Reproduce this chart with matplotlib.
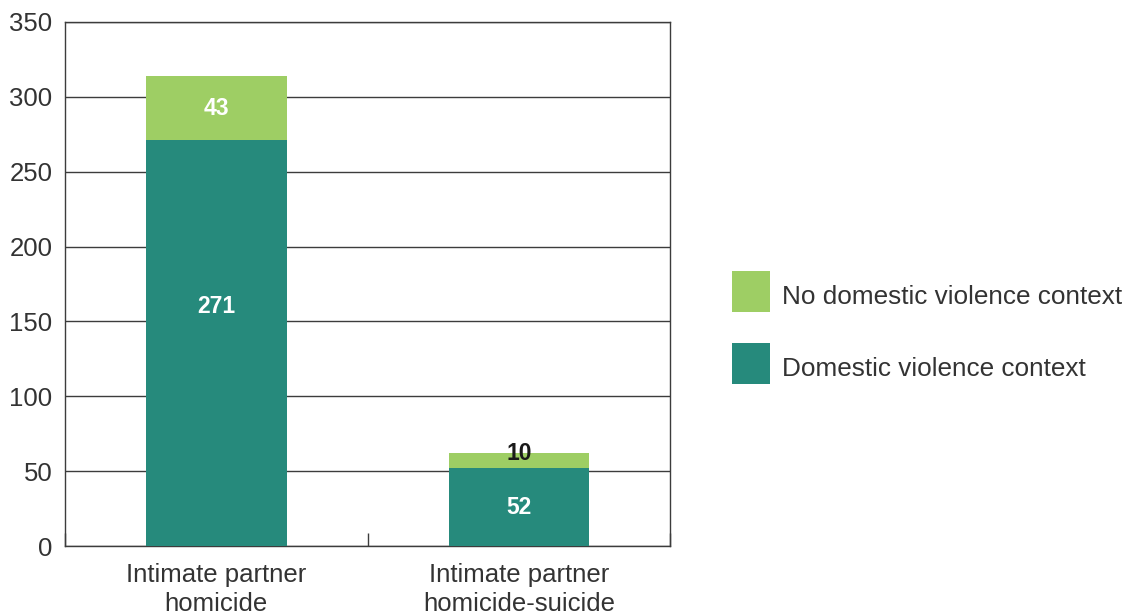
import matplotlib.pyplot as plt
from matplotlib.patches import Rectangle
import numpy as np

categories = ["Intimate partner\nhomicide", "Intimate partner\nhomicide-suicide"]
dv_context = [271, 52]
no_dv_context = [43, 10]
series_names = ["No domestic violence context", "Domestic violence context"]

yticks = [0, 50, 100, 150, 200, 250, 300, 350]

TEAL = "#268a7c"
GREEN = "#9ece64"
TEXT = "#333333"
LINE = "#3c3c3c"

plt.rcParams["font.family"] = ["Liberation Sans", "DejaVu Sans"]

W, H = 1131, 614
fig = plt.figure(figsize=(W / 100, H / 100), dpi=100)
ax = fig.add_axes([0.0575, 0.1107, 0.535, 0.8535])

x = np.arange(len(categories))
width = 0.465
ax.bar(x, dv_context, width, color=TEAL, zorder=3)
ax.bar(x, no_dv_context, width, bottom=dv_context, color=GREEN, zorder=3)

# value labels
dv_label_y = [160, dv_context[1] / 2]
for i in range(len(categories)):
    ax.text(x[i], dv_label_y[i], str(dv_context[i]), ha="center", va="center",
            color="white", fontsize=16.5, fontweight="bold", zorder=4)
ax.text(x[0], dv_context[0] + no_dv_context[0] / 2, str(no_dv_context[0]),
        ha="center", va="center", color="white", fontsize=16.5, fontweight="bold", zorder=4)
ax.text(x[1], dv_context[1] + no_dv_context[1], str(no_dv_context[1]),
        ha="center", va="center", color="#1a1a1a", fontsize=16.5, fontweight="bold", zorder=4)

ax.set_xlim(-0.5, 1.5)
ax.set_ylim(0, 350)
ax.set_yticks(yticks)
ax.set_xticks(x)
ax.set_xticklabels(categories, linespacing=1.28)
ax.set_xticks([-0.5, 0.5, 1.5], minor=True)
ax.tick_params(axis="x", which="major", length=0, pad=12, labelsize=18.5, labelcolor=TEXT)
ax.tick_params(axis="x", which="minor", direction="in", length=9.5, width=1, color=LINE)
ax.tick_params(axis="y", length=0, pad=9, labelsize=18.5, labelcolor=TEXT)

ax.yaxis.grid(True, color=LINE, linewidth=1, zorder=1)
ax.set_axisbelow(True)
for s in ax.spines.values():
    s.set_color(LINE)
    s.set_linewidth(1)

# legend: colour swatches with labels, placed in pixel units
legend_colors = [GREEN, TEAL]
swatch_top = [271, 343]
for name, col, top in zip(series_names, legend_colors, swatch_top):
    fig.add_artist(Rectangle((732 / W, 1 - (top + 41) / H), 38 / W, 41 / H,
                             transform=fig.transFigure, color=col, lw=0))
    fig.text(782 / W, 1 - (top + 24) / H, name, ha="left", va="center_baseline",
             fontsize=18.8, color=TEXT)

fig.savefig("out.png", dpi=100)
